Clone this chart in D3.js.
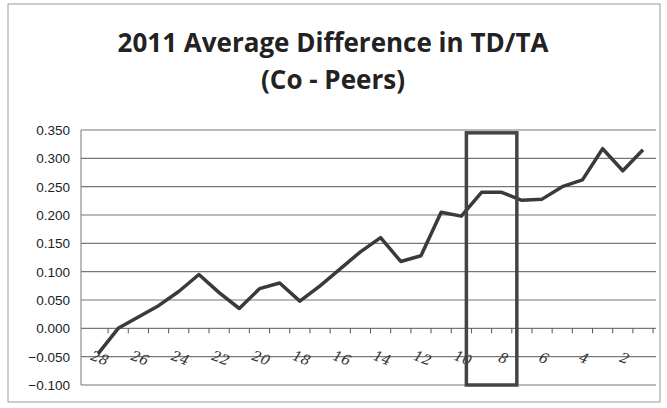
<!DOCTYPE html><html><head><meta charset="utf-8">
<script src="https://cdn.jsdelivr.net/npm/d3@7"></script>
<style>body{margin:0;background:#fff}</style></head><body>
<svg width="667" height="408"></svg>
<script>
const categories=[28,27,26,25,24,23,22,21,20,19,18,17,16,15,14,13,12,11,10,9,8,7,6,5,4,3,2,1];
const values=[-0.045,0.0,0.02,0.04,0.065,0.095,0.063,0.035,0.07,0.08,0.048,0.075,0.105,0.135,0.16,0.118,0.128,0.205,0.198,0.24,0.24,0.226,0.228,0.25,0.262,0.317,0.278,0.315];
const yTicks=[0.35,0.3,0.25,0.2,0.15,0.1,0.05,0,-0.05,-0.1];
const xLabels=[28,26,24,22,20,18,16,14,12,10,8,6,4,2];
const svg=d3.select("svg");
svg.append("rect").attr("x",8).attr("y",4).attr("width",652).attr("height",398).attr("fill","none").attr("stroke","#999");
svg.append("text").attr("x",333).attr("y",52).attr("text-anchor","middle").attr("font-family","Open Sans, sans-serif").attr("font-weight","bold").attr("font-size",26).attr("fill","#222").text("2011 Average Difference in TD/TA");
svg.append("text").attr("x",333).attr("y",89).attr("text-anchor","middle").attr("font-family","Open Sans, sans-serif").attr("font-weight","bold").attr("font-size",26).attr("fill","#222").text("(Co - Peers)");
const y=d3.scaleLinear().domain([-0.1,0.35]).range([385,130]);
const x=d3.scalePoint().domain(categories).range([98,643]);
const step=x.step();
svg.append("g").selectAll("line").data(yTicks).join("line").attr("x1",81).attr("x2",656).attr("y1",d=>y(d)).attr("y2",d=>y(d)).attr("stroke","#777").attr("stroke-width",1.2);
svg.append("line").attr("x1",81).attr("x2",81).attr("y1",y(0.35)).attr("y2",y(-0.1)).attr("stroke","#777");
svg.append("g").selectAll("text").data(yTicks).join("text").attr("x",70).attr("y",d=>y(d)+5).attr("text-anchor","end").attr("font-family","Liberation Sans, sans-serif").attr("font-size",13.5).attr("fill","#222").text(d=>d3.format(".3f")(d));
svg.append("g").selectAll("line").data(categories).join("line").attr("x1",d=>x(d)+step/2).attr("x2",d=>x(d)+step/2).attr("y1",y(0)).attr("y2",y(0)+5).attr("stroke","#555");
svg.append("g").selectAll("text").data(xLabels).join("text").attr("transform",d=>`translate(${x(d)},${y(-0.05)+6}) rotate(20)`).attr("text-anchor","middle").attr("font-family","DejaVu Serif, serif").attr("font-style","italic").attr("font-size",14).attr("fill","#333").text(d=>d);
svg.append("path").datum(values).attr("fill","none").attr("stroke","#3a3a3a").attr("stroke-width",3.5).attr("stroke-linejoin","round")
 .attr("d",d3.line().x((d,i)=>x(categories[i])).y(d=>y(d)));
svg.append("rect").attr("x",x(10)+step*0.25).attr("y",y(0.345)).attr("width",x(8)-x(10)+step*0.5).attr("height",y(-0.1)-y(0.345)).attr("fill","none").attr("stroke","#444").attr("stroke-width",3.5);
</script></body></html>
